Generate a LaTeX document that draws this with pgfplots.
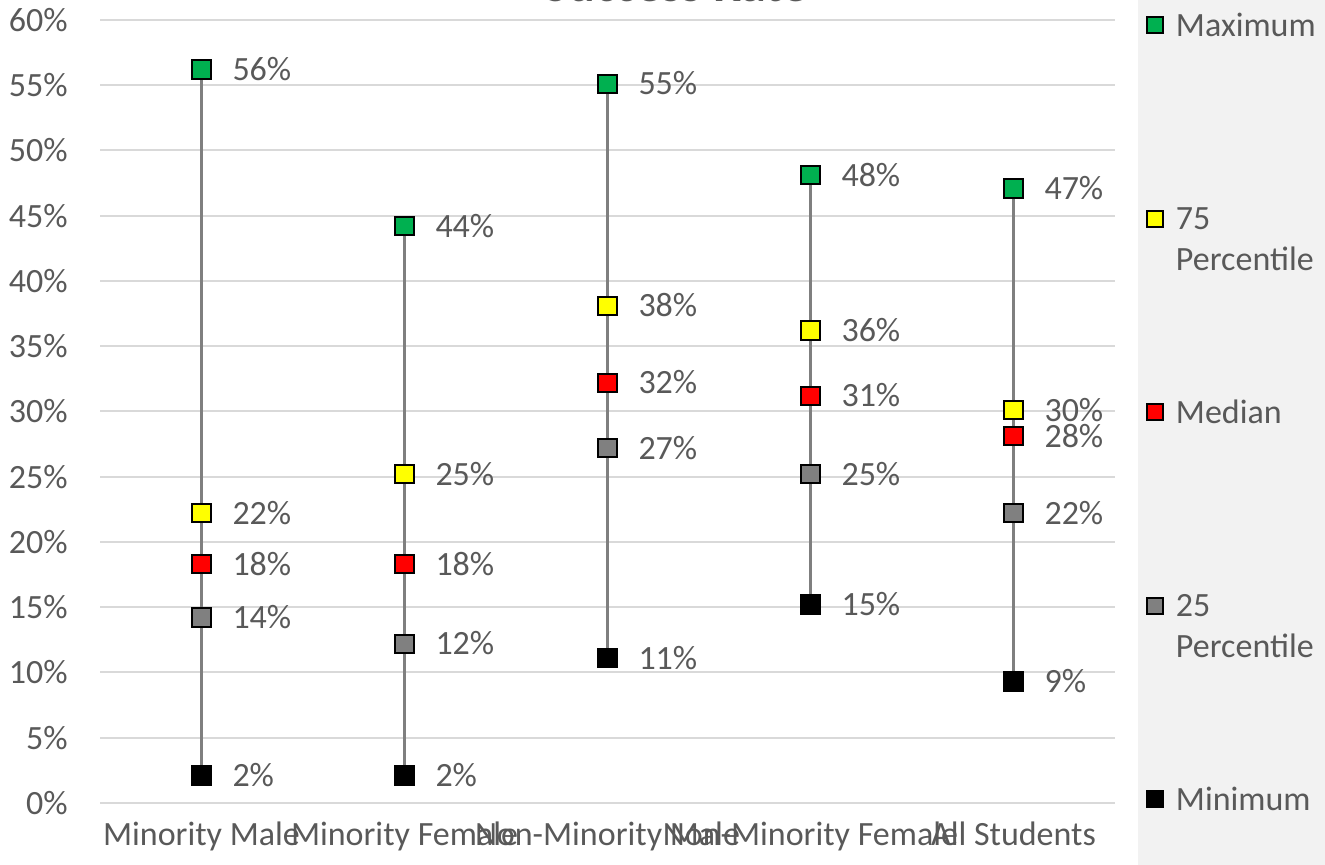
\documentclass[border=0pt]{standalone}
\usepackage{fontspec}
\setmainfont{Carlito}
\usepackage{pgfplots}
\pgfplotsset{compat=1.18}

\definecolor{txt}{HTML}{595959}
\definecolor{gridc}{HTML}{D9D9D9}
\definecolor{linec}{HTML}{7F7F7F}
\definecolor{legbg}{HTML}{F2F2F2}
\definecolor{cmax}{HTML}{00B050}
\definecolor{cq3}{HTML}{FFFF00}
\definecolor{cmed}{HTML}{FF0000}
\definecolor{cq1}{HTML}{808080}
\definecolor{cmin}{HTML}{000000}

\newcommand{\twoline}[2]{\begin{tabular}[t]{@{}l@{}}#1\\#2\end{tabular}}

\begin{document}
\begin{tikzpicture}
% grey band behind the legend
\fill[legbg] (519pt,-31pt) rectangle (612.5pt,401.5pt);
\begin{axis}[
    scale only axis,
    width=507.5pt, height=391.5pt,
    xmin=-0.5, xmax=4.5,
    ymin=0, ymax=60,
    xtick={0,1,2,3,4},
    xticklabels={Minority Male, Minority Female, Non-Minority Male, Non-Minority Female, All Students},
    ytick={0,5,...,60},
    yticklabel={\pgfmathprintnumber{\tick}\%},
    /pgf/number format/assume math mode=true,
    ymajorgrids,
    grid style={gridc, line width=1pt},
    axis line style={draw=none},
    tick style={draw=none},
    major tick length=0pt,
    ticklabel style={font=\fontsize{17}{20}\selectfont, text=txt},
    yticklabel style={anchor=east, inner sep=0pt, xshift=-16pt},
    xticklabel style={anchor=base, inner sep=0pt, yshift=-21pt},
    clip=false,
    legend image code/.code={\draw[#1, mark size=4pt] plot coordinates {(4.5pt,5.5pt)};},
    legend style={at={(1.0315,1.0102)}, anchor=north west, draw=none, fill=none,
        inner sep=0pt, outer sep=0pt, row sep=0pt, column sep=6.5pt,
        font=\fontsize{17}{20.5}\selectfont, text=txt,
        nodes={inner sep=0pt, text height=12pt, text depth=84.75pt},
        cells={anchor=base west}},
    nodes near coords={\pgfmathprintnumber[fixed,precision=0]{\pgfplotspointmeta}\%},
    nodes near coords style={anchor=base west, inner sep=0pt, xshift=15pt, yshift=-5.5pt,
        font=\fontsize{17}{20}\selectfont, text=txt},
    mk/.style={only marks, mark=square*, mark size=4.6pt,
        mark options={draw=black, line width=1pt, fill=#1}},
]
% whiskers from minimum to maximum
\addplot[linec, line width=1.25pt, forget plot, nodes near coords=] coordinates {(0,2.1) (0,56.2)};
\addplot[linec, line width=1.25pt, forget plot, nodes near coords=] coordinates {(1,2.1) (1,44.2)};
\addplot[linec, line width=1.25pt, forget plot, nodes near coords=] coordinates {(2,11.1) (2,55.1)};
\addplot[linec, line width=1.25pt, forget plot, nodes near coords=] coordinates {(3,15.2) (3,48.1)};
\addplot[linec, line width=1.25pt, forget plot, nodes near coords=] coordinates {(4,9.3) (4,47.1)};

\addplot[mk=cmax] coordinates {(0,56.2) (1,44.2) (2,55.1) (3,48.1) (4,47.1)};
\addlegendentry{Maximum}
\addplot[mk=cq3] coordinates {(0,22.2) (1,25.2) (2,38.1) (3,36.2) (4,30.1)};
\addlegendentry{\twoline{75}{Percentile}}
\addplot[mk=cmed] coordinates {(0,18.3) (1,18.3) (2,32.2) (3,31.2) (4,28.1)};
\addlegendentry{Median}
\addplot[mk=cq1] coordinates {(0,14.2) (1,12.2) (2,27.2) (3,25.2) (4,22.2)};
\addlegendentry{\twoline{25}{Percentile}}
\addplot[mk=cmin] coordinates {(0,2.1) (1,2.1) (2,11.1) (3,15.2) (4,9.3)};
\addlegendentry{Minimum}
\end{axis}
% chart title, mostly cut off at the top edge as in the original
\node[anchor=base, inner sep=0pt, text=txt, font=\bfseries\fontsize{25}{30}\selectfont]
    at (288pt,400.5pt) {Success Rate};
\pgfresetboundingbox
\path (-50pt,-31pt) rectangle (612.5pt,401.5pt);
\end{tikzpicture}
\end{document}
